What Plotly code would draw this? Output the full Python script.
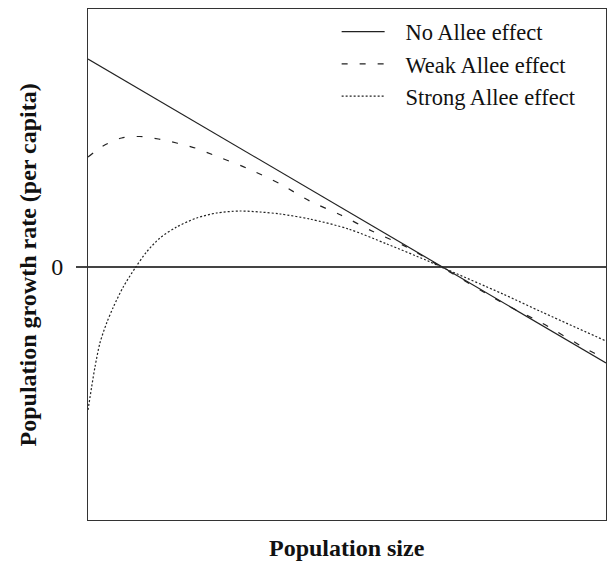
import plotly.graph_objects as go

# Population size (arbitrary units 0-100)
no_x = [0, 100]
no_y = [2.08, -0.96]

weak_x = [0, 2.9, 6.5, 10.0, 13.6, 17.1, 20.7, 24.2, 30.6, 37.1, 42.8, 48.8, 54.8, 61.5, 68.2, 80.1, 87.6, 97.7, 100]
weak_y = [1.10, 1.21, 1.29, 1.305, 1.28, 1.24, 1.19, 1.12, 0.99, 0.83, 0.66, 0.52, 0.36, 0.20, 0.0, -0.36, -0.56, -0.86, -0.90]

strong_x = [0, 0.7, 1.35, 2.3, 3.6, 4.9, 6.8, 9.1, 11.3, 13.9, 17.1, 21.0, 24.8, 29.3, 33.2, 37.1, 42.8, 50.3, 57.7, 65.2, 68.2, 80.1, 87.6, 100]
strong_y = [-1.43, -1.20, -1.00, -0.76, -0.56, -0.40, -0.20, -0.01, 0.15, 0.29, 0.40, 0.49, 0.54, 0.56, 0.55, 0.53, 0.48, 0.38, 0.23, 0.07, 0.0, -0.27, -0.45, -0.74]

series_names = ["No Allee effect", "Weak Allee effect", "Strong Allee effect"]
y_tick_vals = [0]
y_tick_text = ["0"]

FONT = "Liberation Serif, Times New Roman, serif"
INK = "#222222"
GAP = "\u2002\u2009"

fig = go.Figure()
fig.add_trace(go.Scatter(x=no_x, y=no_y, mode="lines", name=GAP + series_names[0],
                         line=dict(color=INK, width=1.2)))
fig.add_trace(go.Scatter(x=weak_x, y=weak_y, mode="lines", name=GAP + series_names[1],
                         line=dict(color=INK, width=1.2, dash="6px,12px", shape="spline", smoothing=0.8)))
fig.add_trace(go.Scatter(x=strong_x, y=strong_y, mode="lines", name=GAP + series_names[2],
                         line=dict(color=INK, width=1.2, dash="2px,2px", shape="spline", smoothing=0.8)))

fig.update_layout(
    width=607, height=563,
    margin=dict(l=88, r=1, t=9, b=43),
    paper_bgcolor="white", plot_bgcolor="white",
    font=dict(family=FONT, color="#111111", size=23),
    showlegend=True,
    legend=dict(x=0.480, y=0.997, xanchor="left", yanchor="top",
                bgcolor="rgba(0,0,0,0)", font=dict(family=FONT, size=22.5, color="#111111"),
                itemwidth=43, tracegroupgap=0),
    xaxis=dict(range=[0, 100], showgrid=False, zeroline=False, showticklabels=False,
               ticks="", showline=True, linecolor="#333333", linewidth=1, mirror=True),
    yaxis=dict(range=[-2.53, 2.58], showgrid=False, zeroline=True, zerolinecolor="#444444",
               zerolinewidth=1.5, tickvals=y_tick_vals, ticktext=y_tick_text, ticks="outside",
               ticklen=11, tickcolor="#444444", tickwidth=1.5, ticklabelstandoff=8,
               tickfont=dict(family=FONT, size=24, color="#111111"),
               showline=True, linecolor="#333333", linewidth=1, mirror=True),
    annotations=[
        dict(text="<b>Population size</b>", xref="paper", yref="paper", x=0.5, y=-0.055,
             xanchor="center", yanchor="middle", showarrow=False,
             font=dict(family=FONT, size=24, color="#111111")),
        dict(text="<b>Population growth rate (per capita)</b>", xref="paper", yref="paper",
             x=-0.116, y=0.5, xanchor="center", yanchor="middle", textangle=-90, showarrow=False,
             font=dict(family=FONT, size=24, color="#111111")),
    ],
)

fig.write_html("out.html", config={"displayModeBar": False},
               post_script="document.body.style.margin='0';document.body.style.overflow='hidden';")
